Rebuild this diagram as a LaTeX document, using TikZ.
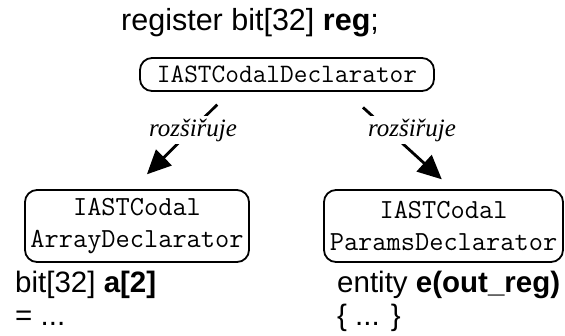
\documentclass[tikz,border=0pt]{standalone}
\usepackage{fontspec}
\setmainfont{Liberation Sans}
\newfontfamily\serifit{Liberation Serif}
\usetikzlibrary{arrows.meta}
\begin{document}
\begin{tikzpicture}[x=1pt,y=-1pt,
  cls/.style={draw, line width=1.8pt, rounded corners=12pt, inner sep=0pt, align=center,
    font=\ttfamily\fontsize{27.6}{32}\selectfont},
  codetxt/.style={anchor=base west, inner sep=0pt, font=\fontsize{29.5}{33}\selectfont},
  lbl/.style={fill=white, inner sep=3pt, anchor=base, font=\serifit\itshape\fontsize{25}{30}\selectfont},
  ext/.style={line width=2.8pt, -{Triangle[length=24pt,width=22pt]}}]
\useasboundingbox (0,0) rectangle (565,335);
\node[codetxt, font=\fontsize{30.5}{33}\selectfont] (title) at (121,30) {register bit[32] \textbf{reg};};
\node[cls, minimum width=294pt, minimum height=33pt, font=\ttfamily\fontsize{26.6}{30}\selectfont] (top) at (287,74.5) {IASTCodalDeclarator};
\node[cls, minimum width=224pt, minimum height=72pt] (arr) at (137,226) {IASTCodal\\ArrayDeclarator};
\node[cls, minimum width=239pt, minimum height=72pt] (par) at (443.5,226) {IASTCodal\\ParamsDeclarator};
\draw[ext, shorten <=18pt, shorten >=21pt] ([xshift=-57pt]top.south) -- ([xshift=-5pt]arr.north);
\draw[ext, shorten <=23pt, shorten >=14.5pt] ([xshift=59pt]top.south) -- ([xshift=9pt]par.north);
\node[lbl] (l1) at (193,136) {rozšiřuje};
\node[lbl] (l2) at (412,136) {rozšiřuje};
\node[codetxt] (a1) at (15,292) {bit[32] \textbf{a[2]}};
\node[codetxt] (a2) at (15,325) {= ...};
\node[codetxt] (p1) at (337,292) {entity \textbf{e(out\_reg)}};
\node[codetxt] (p2) at (337,325) {\{ ... \}};
\end{tikzpicture}
\end{document}
